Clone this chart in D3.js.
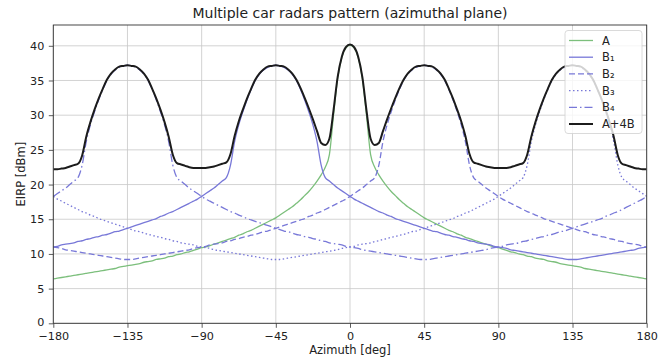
<!DOCTYPE html>
<html>
<head>
<meta charset="utf-8">
<script src="https://cdn.jsdelivr.net/npm/d3@7"></script>
<style>
  body { margin: 0; background: #fff; }
  text { font-family: "DejaVu Sans", sans-serif; fill: #222; }
</style>
</head>
<body>
<svg id="chart" width="659" height="360"></svg>
<script>
// azimuth grid in degrees, one sample every 2.5 deg
const azimuth = d3.range(-180, 180.01, 2.5);
const xTicks = [-180, -135, -90, -45, 0, 45, 90, 135, 180];
const yTicks = [0, 5, 10, 15, 20, 25, 30, 35, 40];
const legendLabels = ["A", "B\u2081", "B\u2082", "B\u2083", "B\u2084", "A+4B"];

// EIRP [dBm]
const seriesA = [
  6.4, 6.5, 6.6, 6.7, 6.8, 6.9, 7.0, 7.1, 7.2, 7.3,
  7.4, 7.5, 7.6, 7.7, 7.8, 7.9, 8.1, 8.2, 8.3, 8.4,
  8.5, 8.6, 8.8, 8.9, 9.0, 9.2, 9.3, 9.4, 9.6, 9.7,
  9.9, 10.0, 10.2, 10.3, 10.5, 10.7, 10.9, 11.0, 11.2, 11.4,
  11.6, 11.8, 12.0, 12.2, 12.4, 12.7, 12.9, 13.2, 13.4, 13.7,
  14.0, 14.3, 14.6, 14.9, 15.2, 15.6, 16.0, 16.4, 16.8, 17.3,
  17.8, 18.4, 19.0, 19.7, 20.5, 21.4, 22.5, 24.3, 30.0, 35.3,
  38.3, 39.7, 40.1,
  39.7, 38.3, 35.3, 30.0, 24.3, 22.5, 21.4, 20.5, 19.7, 19.0,
  18.4, 17.8, 17.3, 16.8, 16.4, 16.0, 15.6, 15.2, 14.9, 14.6,
  14.3, 14.0, 13.7, 13.4, 13.2, 12.9, 12.7, 12.4, 12.2, 12.0,
  11.8, 11.6, 11.4, 11.2, 11.0, 10.9, 10.7, 10.5, 10.3, 10.2,
  10.0, 9.9, 9.7, 9.6, 9.4, 9.3, 9.2, 9.0, 8.9, 8.8,
  8.6, 8.5, 8.4, 8.3, 8.2, 8.1, 7.9, 7.8, 7.7, 7.6,
  7.5, 7.4, 7.3, 7.2, 7.1, 7.0, 6.9, 6.8, 6.7, 6.6,
  6.5, 6.4
];

const seriesB1 = [
  11.0, 11.1, 11.3, 11.4, 11.5, 11.6, 11.8, 11.9, 12.1, 12.2,
  12.4, 12.5, 12.7, 12.8, 13.0, 13.2, 13.3, 13.5, 13.7, 13.9,
  14.1, 14.3, 14.5, 14.7, 14.9, 15.1, 15.4, 15.6, 15.9, 16.1,
  16.4, 16.7, 17.0, 17.3, 17.6, 17.9, 18.3, 18.7, 19.1, 19.5,
  20.0, 20.5, 21.0, 22.8, 26.2, 28.6, 30.5, 32.2, 33.7, 35.0,
  35.9, 36.5, 36.9, 37.1, 37.2,
  37.1, 36.9, 36.5, 35.9, 35.0, 33.7, 32.2, 30.5, 28.6, 26.2,
  22.8, 21.0, 20.5, 20.0, 19.5, 19.1, 18.7, 18.3, 17.9, 17.6,
  17.3, 17.0, 16.7, 16.4, 16.1, 15.9, 15.6, 15.4, 15.1, 14.9,
  14.7, 14.5, 14.3, 14.1, 13.9, 13.7, 13.5, 13.3, 13.2, 13.0,
  12.8, 12.7, 12.5, 12.4, 12.2, 12.1, 11.9, 11.8, 11.6, 11.5,
  11.4, 11.3, 11.1, 11.0, 10.9, 10.8, 10.6, 10.5, 10.4, 10.3,
  10.2, 10.1, 10.0, 9.9, 9.8, 9.7, 9.6, 9.5, 9.4, 9.3,
  9.2, 9.2,
  9.2, 9.3, 9.4, 9.5, 9.6, 9.7, 9.8, 9.9, 10.0, 10.1,
  10.2, 10.3, 10.4, 10.5, 10.6, 10.8, 10.9, 11.0
];

const seriesB2 = [
  11.0, 10.9, 10.8, 10.6, 10.5, 10.4, 10.3, 10.2, 10.1, 10.0,
  9.9, 9.8, 9.7, 9.6, 9.5, 9.4, 9.3, 9.2,
  9.2, 9.2, 9.3, 9.4, 9.5, 9.6, 9.7, 9.8, 9.9, 10.0,
  10.1, 10.2, 10.3, 10.4, 10.5, 10.6, 10.8, 10.9, 11.0, 11.1,
  11.3, 11.4, 11.5, 11.6, 11.8, 11.9, 12.1, 12.2, 12.4, 12.5,
  12.7, 12.8, 13.0, 13.2, 13.3, 13.5, 13.7, 13.9, 14.1, 14.3,
  14.5, 14.7, 14.9, 15.1, 15.4, 15.6, 15.9, 16.1, 16.4, 16.7,
  17.0, 17.3, 17.6, 17.9, 18.3, 18.7, 19.1, 19.5, 20.0, 20.5,
  21.0, 22.8, 26.2, 28.6, 30.5, 32.2, 33.7, 35.0, 35.9, 36.5,
  36.9, 37.1, 37.2,
  37.1, 36.9, 36.5, 35.9, 35.0, 33.7, 32.2, 30.5, 28.6, 26.2,
  22.8, 21.0, 20.5, 20.0, 19.5, 19.1, 18.7, 18.3, 17.9, 17.6,
  17.3, 17.0, 16.7, 16.4, 16.1, 15.9, 15.6, 15.4, 15.1, 14.9,
  14.7, 14.5, 14.3, 14.1, 13.9, 13.7, 13.5, 13.3, 13.2, 13.0,
  12.8, 12.7, 12.5, 12.4, 12.2, 12.1, 11.9, 11.8, 11.6, 11.5,
  11.4, 11.3, 11.1, 11.0
];

const seriesB3 = [
  18.3, 17.9, 17.6, 17.3, 17.0, 16.7, 16.4, 16.1, 15.9, 15.6,
  15.4, 15.1, 14.9, 14.7, 14.5, 14.3, 14.1, 13.9, 13.7, 13.5,
  13.3, 13.2, 13.0, 12.8, 12.7, 12.5, 12.4, 12.2, 12.1, 11.9,
  11.8, 11.6, 11.5, 11.4, 11.3, 11.1, 11.0, 10.9, 10.8, 10.6,
  10.5, 10.4, 10.3, 10.2, 10.1, 10.0, 9.9, 9.8, 9.7, 9.6,
  9.5, 9.4, 9.3, 9.2, 9.2,
  9.2, 9.3, 9.4, 9.5, 9.6, 9.7, 9.8, 9.9, 10.0, 10.1,
  10.2, 10.3, 10.4, 10.5, 10.6, 10.8, 10.9, 11.0, 11.1, 11.3,
  11.4, 11.5, 11.6, 11.8, 11.9, 12.1, 12.2, 12.4, 12.5, 12.7,
  12.8, 13.0, 13.2, 13.3, 13.5, 13.7, 13.9, 14.1, 14.3, 14.5,
  14.7, 14.9, 15.1, 15.4, 15.6, 15.9, 16.1, 16.4, 16.7, 17.0,
  17.3, 17.6, 17.9, 18.3, 18.7, 19.1, 19.5, 20.0, 20.5, 21.0,
  22.8, 26.2, 28.6, 30.5, 32.2, 33.7, 35.0, 35.9, 36.5, 36.9,
  37.1, 37.2,
  37.1, 36.9, 36.5, 35.9, 35.0, 33.7, 32.2, 30.5, 28.6, 26.2,
  22.8, 21.0, 20.5, 20.0, 19.5, 19.1, 18.7, 18.3
];

const seriesB4 = [
  18.3, 18.7, 19.1, 19.5, 20.0, 20.5, 21.0, 22.8, 26.2, 28.6,
  30.5, 32.2, 33.7, 35.0, 35.9, 36.5, 36.9, 37.1, 37.2,
  37.1, 36.9, 36.5, 35.9, 35.0, 33.7, 32.2, 30.5, 28.6, 26.2,
  22.8, 21.0, 20.5, 20.0, 19.5, 19.1, 18.7, 18.3, 17.9, 17.6,
  17.3, 17.0, 16.7, 16.4, 16.1, 15.9, 15.6, 15.4, 15.1, 14.9,
  14.7, 14.5, 14.3, 14.1, 13.9, 13.7, 13.5, 13.3, 13.2, 13.0,
  12.8, 12.7, 12.5, 12.4, 12.2, 12.1, 11.9, 11.8, 11.6, 11.5,
  11.4, 11.3, 11.1, 11.0, 10.9, 10.8, 10.6, 10.5, 10.4, 10.3,
  10.2, 10.1, 10.0, 9.9, 9.8, 9.7, 9.6, 9.5, 9.4, 9.3,
  9.2, 9.2,
  9.2, 9.3, 9.4, 9.5, 9.6, 9.7, 9.8, 9.9, 10.0, 10.1,
  10.2, 10.3, 10.4, 10.5, 10.6, 10.8, 10.9, 11.0, 11.1, 11.3,
  11.4, 11.5, 11.6, 11.8, 11.9, 12.1, 12.2, 12.4, 12.5, 12.7,
  12.8, 13.0, 13.2, 13.3, 13.5, 13.7, 13.9, 14.1, 14.3, 14.5,
  14.7, 14.9, 15.1, 15.4, 15.6, 15.9, 16.1, 16.4, 16.7, 17.0,
  17.3, 17.6, 17.9, 18.3
];

const seriesSum = [
  22.2, 22.2, 22.3, 22.4, 22.6, 22.8, 23.0, 24.2, 26.9, 29.0,
  30.8, 32.4, 33.8, 35.1, 36.0, 36.6, 37.0, 37.1, 37.2, 37.1,
  37.0, 36.6, 36.0, 35.1, 33.8, 32.4, 30.8, 29.0, 26.9, 24.3,
  23.1, 22.9, 22.7, 22.5, 22.4, 22.4, 22.4, 22.4, 22.5, 22.6,
  22.8, 23.0, 23.2, 24.4, 27.0, 29.1, 30.8, 32.4, 33.8, 35.1,
  36.0, 36.6, 37.0, 37.1, 37.2, 37.1, 37.0, 36.6, 36.0, 35.1,
  33.9, 32.5, 31.0, 29.4, 27.7, 26.0, 25.7, 26.6, 30.7, 35.5,
  38.4, 39.8, 40.2,
  39.8, 38.4, 35.5, 30.7, 26.6, 25.7, 26.0, 27.7, 29.4, 31.0,
  32.5, 33.9, 35.1, 36.0, 36.6, 37.0, 37.1, 37.2, 37.1, 37.0,
  36.6, 36.0, 35.1, 33.8, 32.4, 30.8, 29.1, 27.0, 24.4, 23.2,
  23.0, 22.8, 22.6, 22.5, 22.4, 22.4, 22.4, 22.4, 22.5, 22.7,
  22.9, 23.1, 24.3, 26.9, 29.0, 30.8, 32.4, 33.8, 35.1, 36.0,
  36.6, 37.0, 37.1, 37.2, 37.1, 37.0, 36.6, 36.0, 35.1, 33.8,
  32.4, 30.8, 29.0, 26.9, 24.2, 23.0, 22.8, 22.6, 22.4, 22.3,
  22.2, 22.2
];

const green = "#7cbf7c", blue = "#7878d8";
const series = [
  { values: seriesA, color: green, width: 1.3, dash: null },
  { values: seriesB1, color: blue, width: 1.3, dash: null },
  { values: seriesB2, color: blue, width: 1.3, dash: "6,3" },
  { values: seriesB3, color: blue, width: 1.3, dash: "1.5,2.5" },
  { values: seriesB4, color: blue, width: 1.3, dash: "8,3,1.5,3" },
  { values: seriesSum, color: "#1c1c1c", width: 2, dash: null },
];

const svg = d3.select("#chart");
const pLeft = 53.3, pRight = 646.7, pTop = 25, pBottom = 323.3;

const x = d3.scaleLinear().domain([-180, 180]).range([pLeft, pRight]);
const y = d3.scaleLinear().domain([0, 43]).range([pBottom, pTop]);

svg.append("rect").attr("width", 659).attr("height", 360).attr("fill", "#fff");

// grid
const grid = svg.append("g").attr("stroke", "#c8c8c8").attr("stroke-width", 0.8);
grid.selectAll(".gx").data(xTicks).enter().append("line")
  .attr("x1", (d) => x(d)).attr("x2", (d) => x(d))
  .attr("y1", pTop).attr("y2", pBottom);
grid.selectAll(".gy").data(yTicks).enter().append("line")
  .attr("x1", pLeft).attr("x2", pRight)
  .attr("y1", (d) => y(d)).attr("y2", (d) => y(d));

svg.append("clipPath").attr("id", "plot")
  .append("rect").attr("x", pLeft).attr("y", pTop)
  .attr("width", pRight - pLeft).attr("height", pBottom - pTop);

const line = d3.line()
  .x((d, i) => x(azimuth[i]))
  .y((d) => y(d))
  .curve(d3.curveMonotoneX);

svg.append("g").attr("clip-path", "url(#plot)")
  .selectAll("path").data(series).enter().append("path")
  .attr("fill", "none")
  .attr("stroke", (d) => d.color)
  .attr("stroke-width", (d) => d.width)
  .attr("stroke-dasharray", (d) => d.dash)
  .attr("stroke-linejoin", "round")
  .attr("d", (d) => line(d.values));

// axes
const xAxis = svg.append("g")
  .attr("transform", "translate(0," + pBottom + ")")
  .call(d3.axisBottom(x).tickValues(xTicks).tickSize(4.5).tickPadding(4));
const yAxis = svg.append("g")
  .attr("transform", "translate(" + pLeft + ",0)")
  .call(d3.axisLeft(y).tickValues(yTicks).tickSize(4.5).tickPadding(4.5));
[xAxis, yAxis].forEach((a) => {
  a.select(".domain").remove();
  a.selectAll("line").attr("stroke", "#333").attr("stroke-width", 0.8);
  a.selectAll("text").attr("font-size", 11.2).attr("fill", "#222")
    .style("font-family", "'DejaVu Sans', sans-serif");
});
// lift the "0" a little so it clears the first x label
yAxis.selectAll(".tick text").filter((d) => d === 0).attr("dy", "0.2em");

svg.append("rect")
  .attr("x", pLeft).attr("y", pTop)
  .attr("width", pRight - pLeft).attr("height", pBottom - pTop)
  .attr("fill", "none").attr("stroke", "#333").attr("stroke-width", 0.9);

// titles
svg.append("text").attr("x", (pLeft + pRight) / 2).attr("y", 18)
  .attr("text-anchor", "middle").attr("font-size", 14)
  .text("Multiple car radars pattern (azimuthal plane)");
svg.append("text").attr("x", (pLeft + pRight) / 2).attr("y", 354)
  .attr("text-anchor", "middle").attr("font-size", 11.5)
  .text("Azimuth [deg]");
svg.append("text")
  .attr("transform", "translate(25," + (pTop + pBottom) / 2 + ")rotate(-90)")
  .attr("text-anchor", "middle").attr("font-size", 11.5)
  .text("EIRP [dBm]");

// legend
const legend = svg.append("g").attr("transform", "translate(565,30.5)");
legend.append("rect")
  .attr("width", 77).attr("height", 103).attr("rx", 3)
  .attr("fill", "#fff").attr("fill-opacity", 0.8)
  .attr("stroke", "#d0d0d0").attr("stroke-width", 0.8);
const item = legend.selectAll(".item").data(series).enter().append("g")
  .attr("transform", (d, i) => "translate(0," + (10 + i * 16.7) + ")");
item.append("line")
  .attr("x1", 4).attr("x2", 28)
  .attr("stroke", (d) => d.color)
  .attr("stroke-width", (d) => d.width)
  .attr("stroke-dasharray", (d) => d.dash);
item.append("text")
  .attr("x", 37).attr("dy", "0.35em").attr("font-size", 11.5)
  .text((d, i) => legendLabels[i]);
</script>
</body>
</html>
